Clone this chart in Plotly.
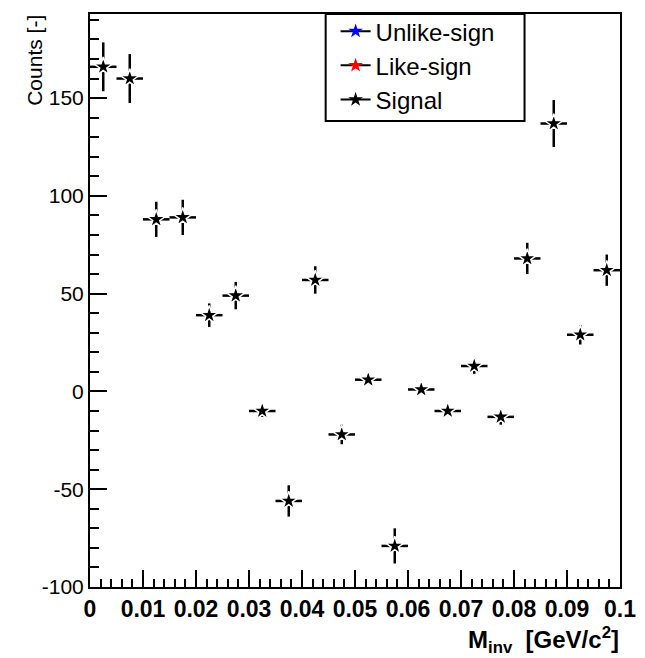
import plotly.graph_objects as go

# Data (bin centers, values, errors)
x_centers = [0.0025, 0.0075, 0.0125, 0.0175, 0.0225, 0.0275, 0.0325, 0.0375, 0.0425, 0.0475,
             0.0525, 0.0575, 0.0625, 0.0675, 0.0725, 0.0775, 0.0825, 0.0875, 0.0925, 0.0975]
signal = [166, 160, 88, 89, 39, 49, -10, -56, 57, -22,
          6, -79, 1, -10, 13, -13, 68, 137, 29, 62]
signal_err = [12.5, 12.5, 9, 9, 6, 7, 3, 8, 7, 5,
              2, 9, 2, 2, 4, 4, 8, 12, 5, 8]
half_bin = [0.0025] * len(x_centers)

legend_names = ["Unlike-sign", "Like-sign", "Signal"]
legend_colors = ["blue", "red", "black"]

x_ticks = [0, 0.01, 0.02, 0.03, 0.04, 0.05, 0.06, 0.07, 0.08, 0.09, 0.1]
x_tick_text = ["0", "0.01", "0.02", "0.03", "0.04", "0.05", "0.06", "0.07", "0.08", "0.09", "0.1"]
y_ticks = [-100, -50, 0, 50, 100, 150]
y_tick_text = ["-100", "-50", "0", "50", "100", "150"]

FONT = "Liberation Sans, Arial, sans-serif"

fig = go.Figure()

# data trace
fig.add_trace(go.Scatter(
    x=x_centers, y=signal, mode="markers", showlegend=False,
    marker=dict(symbol="star", size=14, color="black", line=dict(color="white", width=1.5)),
    error_y=dict(type="data", array=signal_err, color="black", thickness=2.5, width=0),
    error_x=dict(type="data", array=half_bin, color="black", thickness=2.5, width=0),
))

# legend-only traces
for name, col in zip(legend_names, legend_colors):
    fig.add_trace(go.Scatter(
        x=[None], y=[None], mode="lines+markers", name=name,
        line=dict(color="black", width=2),
        marker=dict(symbol="star", size=11, color=col),
    ))

L, R, T, B = 90, 22, 9, 71
W, H = 645, 658
pw, ph = W - L - R, H - T - B


def px_x(p):
    return (p - L) / pw


def px_y(p):
    return (H - B - p) / ph


fig.update_layout(
    width=W, height=H,
    margin=dict(l=L, r=R, t=T, b=B),
    paper_bgcolor="white", plot_bgcolor="white",
    font=dict(family=FONT, color="black"),
    showlegend=True,
    legend=dict(
        x=px_x(337), y=px_y(4), xanchor="left", yanchor="top",
        bgcolor="rgba(0,0,0,0)", borderwidth=0,
        font=dict(size=24, family=FONT, color="black"),
        itemwidth=30, tracegroupgap=0,
    ),
    shapes=[
        dict(type="rect", xref="paper", yref="paper",
             x0=px_x(327), x1=px_x(527), y0=px_y(117), y1=1,
             line=dict(color="black", width=2), fillcolor="white", layer="above"),
    ],
    xaxis=dict(
        range=[0, 0.1], showgrid=False, zeroline=False,
        showline=True, linecolor="black", linewidth=2, mirror=True,
        ticks="inside", ticklen=17, tickwidth=2, tickcolor="black",
        tickvals=x_ticks, ticktext=x_tick_text,
        tickfont=dict(size=23, family=FONT, color="black", weight="bold"),
        minor=dict(dtick=0.002, ticks="inside", ticklen=8, tickwidth=2, tickcolor="black", showgrid=False),
    ),
    yaxis=dict(
        range=[-100, 193], showgrid=False, zeroline=False,
        showline=True, linecolor="black", linewidth=2, mirror=True,
        ticks="inside", ticklen=17, tickwidth=2, tickcolor="black",
        tickvals=y_ticks, ticktext=y_tick_text,
        tickfont=dict(size=21, family=FONT, color="black"),
        minor=dict(dtick=10, ticks="inside", ticklen=9, tickwidth=2, tickcolor="black", showgrid=False),
    ),
    annotations=[
        dict(text="Counts [-]", textangle=-90, xref="paper", yref="paper",
             x=px_x(34), y=px_y(8), xanchor="center", yanchor="top",
             showarrow=False, font=dict(size=21, family=FONT, color="black")),
        dict(text="<b>M<sub>inv</sub>  [GeV/c<sup>2</sup>]</b>", xref="paper", yref="paper",
             x=px_x(624), y=px_y(640), xanchor="right", yanchor="middle",
             showarrow=False, font=dict(size=24, family=FONT, color="black")),
    ],
)

fig.write_html("out.html")
